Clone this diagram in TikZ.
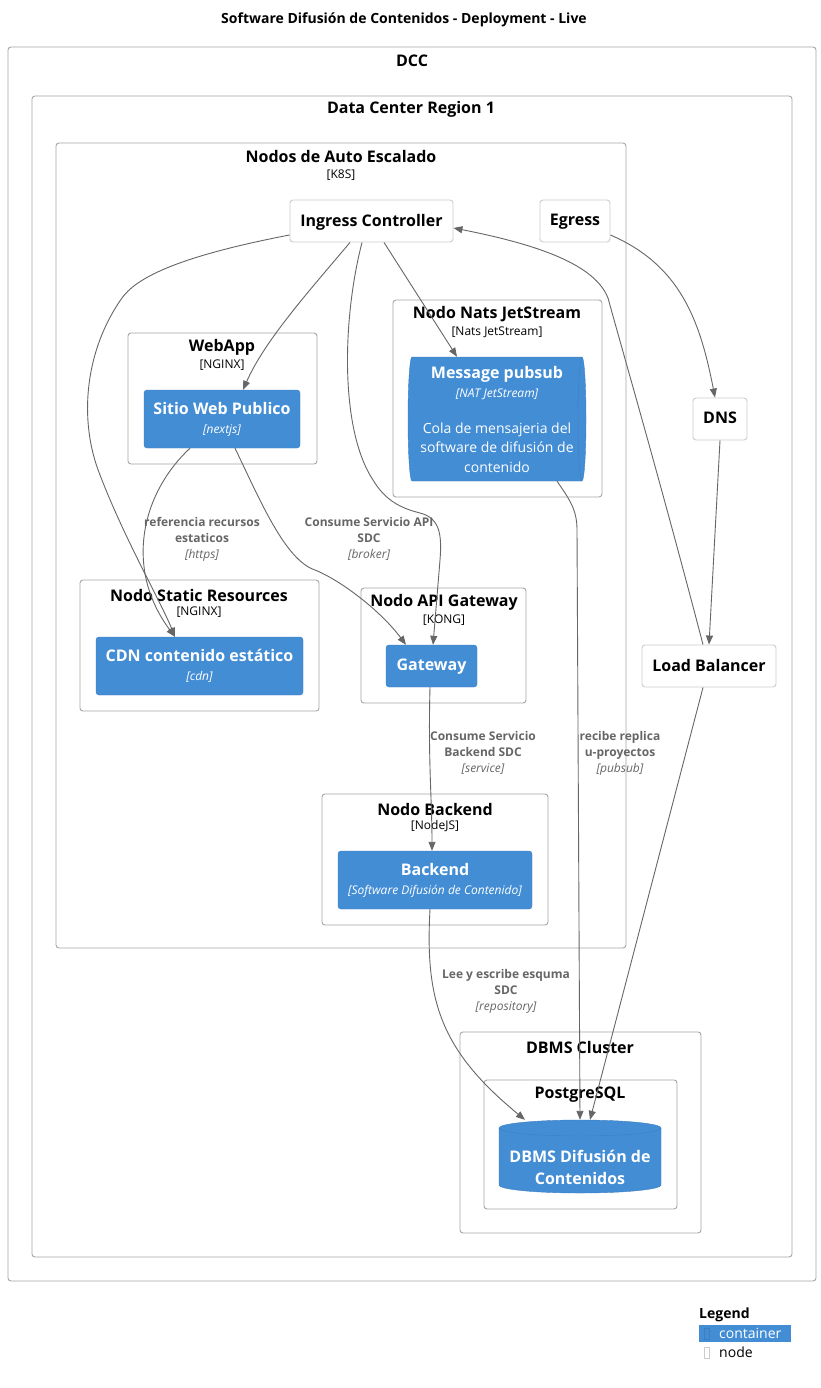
\documentclass[tikz,border=0pt]{standalone}
\usepackage{fontspec}
\setmainfont{Open Sans}
\usetikzlibrary{arrows.meta}
\definecolor{c4blue}{HTML}{438DD5}
\definecolor{c4blueline}{HTML}{3C7FC0}
\definecolor{bndline}{HTML}{A6A6A6}
\definecolor{boxline}{HTML}{CCCCCC}
\definecolor{relgrey}{HTML}{666666}
\begin{document}
\begin{tikzpicture}[x=1pt,y=-1pt,
  bnd/.style={draw=bndline, rounded corners=3pt, line width=0.9pt},
  bndtitle/.style={font=\fontsize{16}{19}\selectfont\bfseries, inner sep=0pt},
  bndtech/.style={font=\fontsize{12}{14}\selectfont, inner sep=0pt},
  infra/.style={draw=boxline, fill=white, rounded corners=3pt, line width=0.9pt, font=\fontsize{16}{19}\selectfont\bfseries, inner sep=0pt, text depth=2pt},
  cont/.style={draw=c4blueline, fill=c4blue, rounded corners=3pt, text=white, align=center, font=\fontsize{16}{19}\selectfont, inner sep=0pt},
  rel/.style={draw=relgrey, line width=0.9pt, -{Triangle[length=9pt,width=7pt]}},
  rellabel/.style={text=relgrey, align=center, font=\fontsize{12}{16}\selectfont\bfseries, inner sep=0pt}]
\useasboundingbox[fill=white] (0,0) rectangle (821,1388);

\node[font=\fontsize{14}{16}\selectfont\bfseries, inner sep=0pt] (title) at (404,20) {Software Difusión de Contenidos - Deployment - Live};

\draw[bnd] (8,47) rectangle (816,1281);
\node[bndtitle] (dcctitle) at (412,61) {DCC};
\draw[bnd] (32,96) rectangle (792,1257);
\node[bndtitle] (regiontitle) at (411,109) {Data Center Region 1};
\draw[bnd] (56,143) rectangle (626,948);
\node[bndtitle] (autotitle) at (341,157) {Nodos de Auto Escalado};
\node[bndtech] (autotech) at (341,175) {[K8S]};
\draw[bnd] (128,333) rectangle (317,464);
\node[bndtitle] (webapptitle) at (222,347) {WebApp};
\node[bndtech] (webapptech) at (222,365) {[NGINX]};
\draw[bnd] (393,300) rectangle (602,497);
\node[bndtitle] (natstitle) at (497,314) {Nodo Nats JetStream};
\node[bndtech] (natstech) at (497,332) {[Nats JetStream]};
\draw[bnd] (80,580) rectangle (319,711);
\node[bndtitle] (statictitle) at (199,595) {Nodo Static Resources};
\node[bndtech] (statictech) at (199,612) {[NGINX]};
\draw[bnd] (361,588) rectangle (526,703);
\node[bndtitle] (apigwtitle) at (444,602) {Nodo API Gateway};
\node[bndtech] (apigwtech) at (444,620) {[KONG]};
\draw[bnd] (322,794) rectangle (548,925);
\node[bndtitle] (bkndtitle) at (435,809) {Nodo Backend};
\node[bndtech] (bkndtech) at (435,826) {[NodeJS]};
\draw[bnd] (460,1032) rectangle (701,1233);
\node[bndtitle] (clustertitle) at (580,1047) {DBMS Cluster};
\draw[bnd] (484,1080) rectangle (677,1209);
\node[bndtitle] (pgtitle) at (580,1095) {PostgreSQL};

\fill[c4blue, draw=c4blueline] (412,357) -- (582,357) arc[start angle=90, end angle=-90, x radius=4pt, y radius=62pt] -- (412,481) arc[start angle=270, end angle=90, x radius=4pt, y radius=62pt] -- cycle;
\draw[c4blueline] (582,357) arc[start angle=90, end angle=270, x radius=4pt, y radius=62pt];
\fill[c4blue, draw=c4blueline] (499,1128) -- (499,1185) arc[start angle=180, end angle=360, x radius=81pt, y radius=8pt] -- (661,1128) arc[start angle=0, end angle=180, x radius=81pt, y radius=8pt] -- cycle;
\draw[c4blueline] (499,1128) arc[start angle=180, end angle=360, x radius=81pt, y radius=8pt];

\node[infra, minimum width=163pt, minimum height=42pt] (ingress) at (371.5,221) {Ingress Controller};
\node[infra, minimum width=70pt, minimum height=42pt] (egress) at (575,221) {Egress};
\node[infra, minimum width=54pt, minimum height=42pt] (dns) at (720,419) {DNS};
\node[infra, minimum width=134pt, minimum height=42pt] (lb) at (709,666) {Load Balancer};
\node[cont, minimum width=156pt, minimum height=58pt] (sitio) at (222,419) {\textbf{Sitio Web Publico}\\{\fontsize{12}{19}\selectfont\itshape [nextjs]}};
\node[cont, minimum width=207pt, minimum height=58pt] (cdn) at (199.5,666) {\textbf{CDN contenido estático}\\{\fontsize{12}{19}\selectfont\itshape [cdn]}};
\node[cont, minimum width=91pt, minimum height=42pt, text depth=2pt] (gateway) at (431.5,666) {\textbf{Gateway}};
\node[cont, minimum width=194pt, minimum height=58pt] (backend) at (435,880) {\textbf{Backend}\\{\fontsize{12}{19}\selectfont\itshape [Software Difusión de Contenido]}};
\node[cont, draw=none, fill=none, font=\fontsize{16}{19.5}\selectfont, minimum width=178pt, minimum height=124pt] (pubsub) at (497,419) {\textbf{Message pubsub}\\{\fontsize{12}{19}\selectfont\itshape [NAT JetStream]}\\[16pt]{\fontsize{14}{19}\selectfont Cola de mensajeria del}\\{\fontsize{14}{19}\selectfont software de difusión de}\\{\fontsize{14}{19}\selectfont contenido}};
\node[cont, draw=none, fill=none, minimum width=162pt, minimum height=73pt] (dbms) at (580,1156.5) {};
\node[cont, draw=none, fill=none, font=\fontsize{16}{22}\selectfont\bfseries] (dbmstext) at (580,1167) {DBMS Difusión de\\Contenidos};

\draw[rel] ([yshift=-14pt]ingress.west) .. controls (170,258) and (135,280) .. (122,298) .. controls (85,350) and (78,420) .. (100,475) .. controls (125,540) and (160,600) .. ([xshift=-24.5pt]cdn.north);
\draw[rel] ([xshift=-21.5pt]ingress.south) .. controls (310,290) and (265,340) .. ([xshift=21pt]sitio.north);
\draw[rel] ([xshift=-9.5pt]ingress.south) .. controls (342,320) and (340,430) .. (373,480) .. controls (385,500) and (400,508) .. (420,513) .. controls (440,518) and (442,535) .. (440,560) -- ([xshift=1.5pt]gateway.north);
\draw[rel] ([xshift=12.5pt]ingress.south) -- ([xshift=-40pt]pubsub.north);
\draw[rel] ([xshift=-6pt]lb.north) .. controls (660,480) and (625,360) .. (608,298) .. controls (595,265) and (540,245) .. ([yshift=-7pt]ingress.east);
\draw[rel] ([yshift=-14pt]egress.east) .. controls (680,265) and (700,320) .. ([xshift=-5pt]dns.north);
\draw[rel] (dns.south) -- (lb.north);
\draw[rel] ([xshift=-6pt]lb.south) -- ([xshift=10pt]dbms.north);
\draw[rel] ([xshift=60pt]pubsub.south) .. controls (570,500) and (577,510) .. (577,530) -- (dbms.north);
\draw[rel] ([xshift=-1.5pt]gateway.south) .. controls (428,760) and (432,800) .. ([xshift=-3pt]backend.north);
\draw[rel] ([xshift=-5pt]backend.south) .. controls (425,1000) and (440,1050) .. ([xshift=-55pt]dbms.north);
\draw[rel] ([xshift=13pt]sitio.south) .. controls (260,500) and (285,560) .. (315,570) .. controls (340,580) and (380,610) .. ([xshift=-25.5pt]gateway.north);
\draw[rel] ([xshift=-32pt]sitio.south) .. controls (140,495) and (125,570) .. ([xshift=-24.5pt]cdn.north);

\node[rellabel] (lblcdn) at (202,539) {referencia recursos\\estaticos\\{\mdseries\itshape [https]}};
\node[rellabel] (lblapi) at (369,539) {Consume Servicio API\\SDC\\{\mdseries\itshape [broker]}};
\node[rellabel] (lblsvc) at (483,753) {Consume Servicio\\Backend SDC\\{\mdseries\itshape [service]}};
\node[rellabel] (lblrep) at (620,753) {recibe replica\\u-proyectos\\{\mdseries\itshape [pubsub]}};
\node[rellabel] (lbldb) at (506,991) {Lee y escribe esquma\\SDC\\{\mdseries\itshape [repository]}};

\node[font=\fontsize{14}{16}\selectfont\bfseries, anchor=west, inner sep=0pt] (legendtitle) at (699,1315) {Legend};
\fill[c4blue] (699,1325) rectangle (791,1342);
\draw[c4blueline] (704,1328) rectangle (709,1339);
\node[font=\fontsize{14}{16}\selectfont, text=white, anchor=west, inner sep=0pt] (legcont) at (719,1333) {container};
\draw[boxline] (704,1347) rectangle (709,1358);
\node[font=\fontsize{14}{16}\selectfont, anchor=west, inner sep=0pt] (legnode) at (719,1352) {node};
\end{tikzpicture}
\end{document}
